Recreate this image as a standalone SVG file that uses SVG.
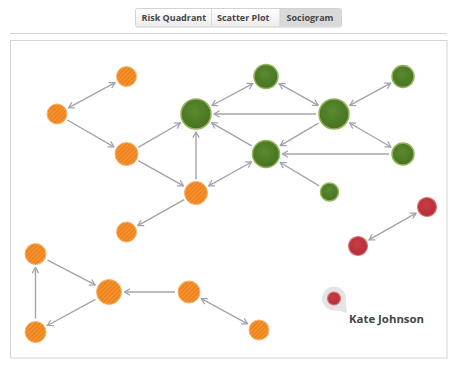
<svg xmlns="http://www.w3.org/2000/svg" width="450" height="367" viewBox="0 0 450 367">
<style>
.tab{font-family:"Open Sans","Liberation Sans",sans-serif;font-weight:bold;font-size:9px;fill:#454545}
.lbl{font-family:"Open Sans","Liberation Sans",sans-serif;font-weight:bold;font-size:11.4px;fill:#454545}
.e{fill:none;stroke:#a2a4ad;stroke-width:1.4}
.bi{marker-start:url(#arr);marker-end:url(#arr)}
.one{marker-end:url(#arr)}
.or{fill:url(#stripes);stroke:#f6b46e;stroke-width:1}
.gr{fill:url(#gg);stroke:#93b45a;stroke-width:1.5}
.rd{fill:url(#rg);stroke:#dc7378;stroke-width:1.2}
</style>
<defs>
<marker id="arr" viewBox="0 0 10 10" refX="9" refY="5" markerWidth="8" markerHeight="8" markerUnits="userSpaceOnUse" orient="auto-start-reverse">
<path d="M2,1 L9,5 L2,9" fill="none" stroke="#a2a4ad" stroke-width="1.6"/>
</marker>
<pattern id="stripes" width="3" height="3" patternUnits="userSpaceOnUse" patternTransform="rotate(45)">
<rect width="3" height="3" fill="#f0821a"/>
<rect width="1" height="3" fill="#f39a40"/>
</pattern>
<radialGradient id="gg" cx="0.45" cy="0.4" r="0.6">
<stop offset="0" stop-color="#5a8a2f"/>
<stop offset="1" stop-color="#477321"/>
</radialGradient>
<radialGradient id="rg" cx="0.45" cy="0.4" r="0.6">
<stop offset="0" stop-color="#c93c45"/>
<stop offset="1" stop-color="#b32e37"/>
</radialGradient>
<linearGradient id="tabg" x1="0" y1="0" x2="0" y2="1">
<stop offset="0" stop-color="#ffffff"/>
<stop offset="1" stop-color="#ebebeb"/>
</linearGradient>
</defs>
<rect width="450" height="367" fill="#ffffff"/>
<g id="tabs">
<rect x="135.5" y="8.5" width="206" height="18.5" rx="2" fill="url(#tabg)" stroke="#d2d2d2"/>
<rect x="280" y="9" width="61" height="17.5" fill="#d9d9d9"/>
<line x1="211.5" y1="9" x2="211.5" y2="26.5" stroke="#dadada"/>
<line x1="280" y1="9" x2="280" y2="26.5" stroke="#cfcfcf"/>
<text class="tab" x="141.5" y="20.8">Risk Quadrant</text>
<text class="tab" x="217" y="20.8">Scatter Plot</text>
<text class="tab" x="286.5" y="20.8">Sociogram</text>
</g>
<g id="frame">
<line x1="10" y1="33.5" x2="447" y2="33.5" stroke="#d3d3d3"/>
<rect x="10.5" y="40.5" width="436.5" height="317.5" fill="none" stroke="#d5d5d5"/>
</g>
<g id="connectors">
<line class="e bi" x1="68.4" y1="107.8" x2="115.1" y2="82.7"/>
<line class="e one" x1="67.4" y1="120" x2="113.9" y2="146.8"/>
<line class="e one" x1="138.2" y1="147.3" x2="180.4" y2="123"/>
<line class="e one" x1="138.3" y1="160.6" x2="183.4" y2="185.9"/>
<line class="e one" x1="196" y1="179.5" x2="196" y2="132"/>
<line class="e one" x1="184.2" y1="199.6" x2="137.8" y2="225.6"/>
<line class="e bi" x1="211.9" y1="105.5" x2="252.8" y2="83.6"/>
<line class="e bi" x1="279.1" y1="83.7" x2="318.2" y2="105.3"/>
<line class="e one" x1="316" y1="114" x2="214" y2="114"/>
<line class="e one" x1="251.7" y1="145.8" x2="211.6" y2="122.9"/>
<line class="e bi" x1="251.6" y1="162" x2="208.7" y2="185.9"/>
<line class="e one" x1="318.5" y1="123.1" x2="280.2" y2="145.6"/>
<line class="e bi" x1="349.8" y1="105.4" x2="390.7" y2="83.2"/>
<line class="e bi" x1="349.6" y1="123" x2="390.9" y2="147"/>
<line class="e one" x1="389" y1="154" x2="282.5" y2="154"/>
<line class="e one" x1="319.2" y1="185.8" x2="280.2" y2="162.5"/>
<line class="e bi" x1="416.1" y1="213.1" x2="368.9" y2="239.9"/>
<line class="e one" x1="47.5" y1="260.2" x2="95.2" y2="284.9"/>
<line class="e one" x1="95.4" y1="299.4" x2="47.4" y2="325.5"/>
<line class="e one" x1="35.5" y1="318.5" x2="35.5" y2="267.5"/>
<line class="e one" x1="175" y1="292" x2="124.5" y2="292"/>
<line class="e bi" x1="201.3" y1="298.7" x2="247.6" y2="323.8"/>
</g>
<g id="o1"><circle class="or" cx="126.5" cy="76.5" r="10"/></g>
<g id="o2"><circle class="or" cx="57" cy="114" r="10"/></g>
<g id="o3"><circle class="or" cx="126.5" cy="154" r="11.5"/></g>
<g id="o4"><circle class="or" cx="196" cy="193" r="11.5"/></g>
<g id="o5"><circle class="or" cx="126.5" cy="232" r="10"/></g>
<g id="o6"><circle class="or" cx="35.5" cy="254" r="10.5"/></g>
<g id="o7"><circle class="or" cx="109" cy="292" r="12.5"/></g>
<g id="o8"><circle class="or" cx="189" cy="292" r="11"/></g>
<g id="o9"><circle class="or" cx="35.5" cy="332" r="10.5"/></g>
<g id="o10"><circle class="or" cx="259" cy="330" r="10"/></g>
<g id="g1"><circle class="gr" cx="196" cy="114" r="15"/></g>
<g id="g2"><circle class="gr" cx="266" cy="76.5" r="12"/></g>
<g id="g3"><circle class="gr" cx="334" cy="114" r="15"/></g>
<g id="g4"><circle class="gr" cx="403" cy="76.5" r="11"/></g>
<g id="g5"><circle class="gr" cx="266" cy="154" r="13.5"/></g>
<g id="g6"><circle class="gr" cx="403" cy="154" r="11"/></g>
<g id="g7"><circle class="gr" cx="329.5" cy="192" r="9"/></g>
<g id="r1"><circle class="rd" cx="427" cy="207" r="9.5"/></g>
<g id="r2"><circle class="rd" cx="358" cy="246" r="9.5"/></g>
<g id="kate">
<path d="M345.8,300.6 L347,313 L336.1,310.3 A12,12 0 1 1 345.8,300.6 Z" fill="#e4e4e4"/>
<circle class="rd" cx="334" cy="298.5" r="6.5"/>
<text class="lbl" x="349" y="323">Kate Johnson</text>
</g>
</svg>
